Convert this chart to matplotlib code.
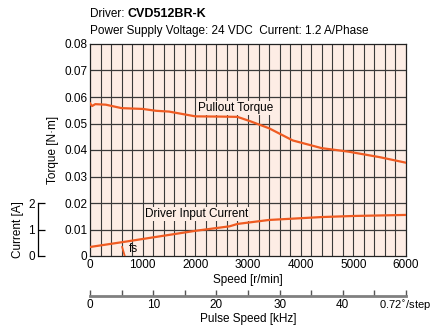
import matplotlib
matplotlib.use('Agg')
import matplotlib.pyplot as plt
from matplotlib.transforms import offset_copy

plt.rcParams['font.family'] = ['Liberation Sans Narrow', 'Liberation Sans', 'DejaVu Sans']
plt.rcParams['font.size'] = 8.5

# pullout torque [N·m] vs speed [r/min]
torque_speed = [0, 40, 100, 300, 600, 1000, 1250, 1500, 2000, 2500, 2800, 3050, 3400, 3850, 4400, 4900, 5500, 6000]
torque_vals = [0.0576, 0.0566, 0.0573, 0.0571, 0.0558, 0.0555, 0.0548, 0.0545, 0.0527, 0.0526, 0.0525, 0.0508, 0.0482, 0.0436, 0.0407, 0.0394, 0.0373, 0.0352]

# driver input current [A] vs speed [r/min]
current_speed = [0, 670, 2000, 2650, 2800, 3400, 4400, 5000, 6000]
current_vals = [0.34, 0.54, 0.95, 1.12, 1.21, 1.36, 1.47, 1.51, 1.55]

# fs marker
fs_speed = [610, 660]
fs_torque = [0.0034, 0.0]

speed_ticks = [0, 1000, 2000, 3000, 4000, 5000, 6000]
torque_ticks = [0, 0.01, 0.02, 0.03, 0.04, 0.05, 0.06, 0.07, 0.08]
torque_labels = ['0', '0.01', '0.02', '0.03', '0.04', '0.05', '0.06', '0.07', '0.08']
current_ticks = [0, 1, 2]
pulse_ticks = [0, 10, 20, 30, 40, 50]
pulse_labels = ['0', '10', '20', '30', '40', '0.72$^{\\circ}$/step']

orange = '#ef5b22'
grid_col = '#3a3a3a'
bg = '#fdede5'

fig = plt.figure(figsize=(4.32, 3.27), dpi=100)
L, B, W, H = 90 / 432, 71 / 327, 316 / 432, 212 / 327
ax = fig.add_axes([L, B, W, H])
ax.set_facecolor(bg)
ax.set_xlim(0, 6000)
ax.set_ylim(0, 0.08)

# сетка
for x in range(200, 6000, 200):
    ax.axvline(x, color=grid_col, lw=0.8, zorder=1)
for y in torque_ticks[1:-1]:
    ax.axhline(y, color=grid_col, lw=0.9, zorder=1)

ax.plot(torque_speed, torque_vals, color=orange, lw=1.6, zorder=3)
ax.plot(fs_speed, fs_torque, color=orange, lw=1.3, zorder=3)
ax.text(740, 0.0002, 'fs', va='bottom', ha='left', zorder=4)

ax.set_xticks(speed_ticks)
ax.set_yticks(torque_ticks)
ax.set_yticklabels(torque_labels)
ax.tick_params(length=0, pad=2)
for s in ax.spines.values():
    s.set_color('#222222')
    s.set_linewidth(0.9)
ax.set_xlabel('Speed [r/min]', labelpad=2)
ax.set_ylabel('Torque [N·m]', labelpad=4)

ax.text(2050, 0.0558, 'Pullout Torque', va='center', ha='left', zorder=4,
        bbox=dict(facecolor=bg, edgecolor='none', pad=0.5))
ax.text(1050, 0.0158, 'Driver Input Current', va='center', ha='left', zorder=4,
        bbox=dict(facecolor=bg, edgecolor='none', pad=0.5))

# ток в том же масштабе: 0.08 N·m <-> 8 A
axc = ax.twinx()
axc.set_ylim(0, 8)
axc.plot(current_speed, current_vals, color=orange, lw=1.6, zorder=3)
axc.axis('off')

# отдельная ось тока слева
axi = fig.add_axes([37.5 / 432, B, 0.0001, H])
axi.set_ylim(0, 8)
axi.set_yticks(current_ticks)
axi.set_xticks([])
for k in ['top', 'right', 'bottom']:
    axi.spines[k].set_visible(False)
axi.spines['left'].set_bounds(0, 2)
axi.spines['left'].set_linewidth(0.9)
axi.tick_params(axis='y', direction='in', length=5, width=0.9, pad=2)
axi.set_ylabel('Current [A]', labelpad=3)
axi.yaxis.label.set_position((0, 1 / 8))
axi.patch.set_visible(False)

# ось частоты импульсов
axp = fig.add_axes([L, 31 / 327, W, 0.0001])
axp.set_xlim(0, 50)
axp.set_yticks([])
for k in ['top', 'right', 'left']:
    axp.spines[k].set_visible(False)
axp.spines['bottom'].set_color('#808080')
axp.spines['bottom'].set_linewidth(2)
axp.set_xticks(pulse_ticks)
axp.set_xticks([5, 15, 25, 35, 45], minor=True)
axp.set_xticklabels(pulse_labels)
axp.tick_params(axis='x', which='both', direction='in', length=4, width=1, color='#555555', pad=2)
last = axp.get_xticklabels()[-1]
last.set_fontsize(8)
last.set_horizontalalignment('right')
last.set_transform(offset_copy(last.get_transform(), fig=fig, x=25, y=0, units='dots'))
axp.set_xlabel('Pulse Speed [kHz]', labelpad=0)
axp.patch.set_visible(False)

# заголовок
t1 = fig.text(L, 1 - 14 / 327, 'Driver: ', va='center', ha='left')
fig.canvas.draw()
w1 = t1.get_window_extent().width
fig.text(L + w1 / 432, 1 - 14 / 327, 'CVD512BR-K', fontsize=9, fontweight='bold',
         va='center', ha='left')
fig.text(L, 1 - 31 / 327, 'Power Supply Voltage: 24 VDC  Current: 1.2 A/Phase',
         va='center', ha='left')

fig.savefig('out.png', dpi=100)
